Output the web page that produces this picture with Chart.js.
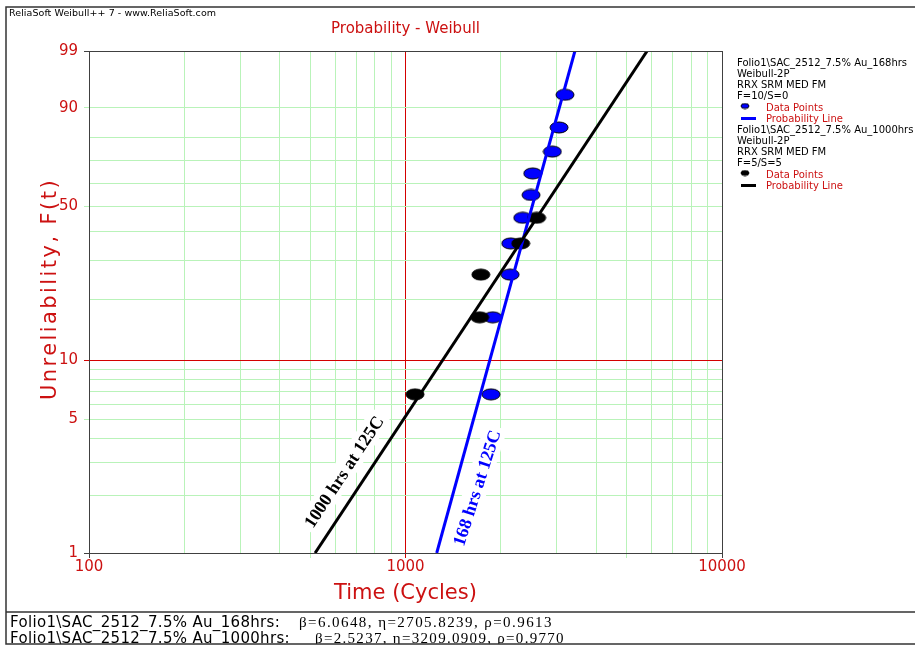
<!DOCTYPE html>
<html>
<head>
<meta charset="utf-8">
<title>Probability - Weibull</title>
<script src="https://cdn.jsdelivr.net/npm/chart.js@4.4.1/dist/chart.umd.min.js"></script>
<style>
  html, body { margin: 0; padding: 0; background: #fff; }
  #wrap { position: relative; width: 915px; height: 647px; }
</style>
</head>
<body>
<div id="wrap"><canvas id="weibullChart"></canvas></div>
<script>
// --- Values ---
// median ranks (%) of the failures, 10 units per test
const medianRanks = [6.73, 16.35, 25.96, 35.58, 45.19, 54.81, 64.42, 74.04, 83.65, 93.27];
const times168 = [1863, 1886, 2140, 2150, 2346, 2492, 2523, 2910, 3055, 3191];
const times1000 = [1072, 1715, 1730, 2312, 2597]; // 5 failed, 5 suspended

// fitted probability lines, [time, F%] at the plot edges
const line168 = [[1255, 1], [3430, 99]];
const line1000 = [[518, 1], [5800, 99]];

const xGrid = [100, 200, 300, 400, 500, 600, 700, 800, 900,
               1000, 2000, 3000, 4000, 5000, 6000, 7000, 8000, 9000, 10000];
const xLabels = [100, 1000, 10000];
const xTickMarks = [100, 500, 1000, 5000, 10000];
const yGrid = [1, 2, 3, 4, 5, 6, 7, 8, 9, 10, 20, 30, 40, 50, 60, 70, 80, 90, 99];
const yLabels = [1, 5, 10, 50, 90, 99];

const seriesNames = ['Folio1\\SAC_2512_7.5% Au_168hrs', 'Folio1\\SAC_2512_7.5% Au_1000hrs'];
const seriesCounts = ['F=10/S=0', 'F=5/S=5'];
const seriesParams = ['\u03b2=6.0648, \u03b7=2705.8239, \u03c1=0.9613',
                      '\u03b2=2.5237, \u03b7=3209.0909, \u03c1=0.9770'];

const RED = '#cc1111';
const GREEN = '#b9f3b9';
const GRID_RED = '#d40000';
const AXIS = '#404040';
const BLUE = '#0000ff';
const SANS = '"DejaVu Sans"';
const SERIF = '"Liberation Serif"';

// --- Weibull probability scale: y = ln(-ln(1 - F)) ---
const W = p => Math.log(-Math.log(1 - p / 100));

class WeibullScale extends Chart.LinearScale {
  static id = 'weibull';
  buildTicks() {
    return yGrid.map(v => ({ value: v }));
  }
  getPixelForValue(v) {
    const a = W(this.min), b = W(this.max);
    return this.getPixelForDecimal((W(v) - a) / (b - a));
  }
  getValueForPixel(px) {
    const a = W(this.min), b = W(this.max);
    const w = a + this.getDecimalForPixel(px) * (b - a);
    return 100 * (1 - Math.exp(-Math.exp(w)));
  }
}
Chart.register(WeibullScale);

// ellipse marker used for the data points
function ellipseMark(fill, rx, ry) {
  const c = document.createElement('canvas');
  c.width = rx * 2 + 2;
  c.height = ry * 2 + 2;
  const g = c.getContext('2d');
  g.beginPath();
  g.ellipse(rx + 1, ry + 1, rx, ry, 0, 0, Math.PI * 2);
  g.fillStyle = fill;
  g.fill();
  g.lineWidth = 1;
  g.strokeStyle = '#000';
  g.stroke();
  return c;
}

// draw text stretched/condensed to a given width with letter spacing
function spacedText(ctx, text, x, y, width) {
  ctx.letterSpacing = '0px';
  const w = ctx.measureText(text).width;
  const n = [...text].length;
  ctx.letterSpacing = ((width - w) / n).toFixed(2) + 'px';
  ctx.fillText(text, x, y);
  ctx.letterSpacing = '0px';
}

const notes = [
  { text: '1000 hrs at 125C', color: '#000', at: [639, 2.67], line: line1000, tilt: 0 },
  { text: '168 hrs at 125C', color: BLUE, at: [1682, 2.2], line: line168, tilt: 2.5 },
];

const decorations = {
  id: 'decorations',
  beforeDraw(chart) {
    const ctx = chart.ctx;
    ctx.save();
    ctx.fillStyle = '#fff';
    ctx.fillRect(0, 0, chart.width, chart.height);
    ctx.restore();
  },
  beforeDatasetsDraw(chart) {
    const { ctx, scales: { x, y } } = chart;
    notes.forEach(n => {
      const px = x.getPixelForValue(n.at[0]), py = y.getPixelForValue(n.at[1]);
      const ax = x.getPixelForValue(n.line[0][0]), ay = y.getPixelForValue(n.line[0][1]);
      const bx = x.getPixelForValue(n.line[1][0]), by = y.getPixelForValue(n.line[1][1]);
      const ang = Math.atan2(by - ay, bx - ax) + n.tilt * Math.PI / 180;
      ctx.save();
      ctx.translate(px, py);
      ctx.rotate(ang);
      ctx.font = 'bold 18px ' + SERIF;
      const w = ctx.measureText(n.text).width;
      ctx.fillStyle = '#fff';
      ctx.fillRect(-w / 2 - 4, -12, w + 8, 23);
      ctx.fillStyle = n.color;
      ctx.textAlign = 'center';
      ctx.textBaseline = 'middle';
      ctx.fillText(n.text, 0, 1);
      ctx.restore();
    });
  },
  afterDraw(chart) {
    const { ctx, chartArea: ca } = chart;
    ctx.save();

    // plot frame top/right
    ctx.strokeStyle = AXIS;
    ctx.lineWidth = 1;
    ctx.beginPath();
    ctx.moveTo(ca.left, ca.top + 0.5);
    ctx.lineTo(ca.right + 0.5, ca.top + 0.5);
    ctx.lineTo(ca.right + 0.5, ca.bottom);
    ctx.stroke();

    // header
    ctx.fillStyle = '#000';
    ctx.font = '9.5px ' + SANS;
    ctx.textAlign = 'left';
    ctx.textBaseline = 'middle';
    spacedText(ctx, 'ReliaSoft Weibull++ 7 - www.ReliaSoft.com', 9, 14, 207);

    // y axis title
    ctx.save();
    ctx.translate(56, 289);
    ctx.rotate(-Math.PI / 2);
    ctx.fillStyle = RED;
    ctx.font = '21px ' + SANS;
    ctx.textBaseline = 'alphabetic';
    spacedText(ctx, 'Unreliability, F(t)', -111, 0, 222);
    ctx.restore();

    // legend blocks
    const marks = [ellipseMark(BLUE, 4, 2.5), ellipseMark('#000', 4, 2.5)];
    const lineCols = [BLUE, '#000'];
    [63, 130].forEach((top, i) => {
      ctx.font = '10px ' + SANS;
      ctx.fillStyle = '#000';
      ctx.fillText(seriesNames[i], 737, top);
      ctx.fillText('Weibull-2P', 737, top + 11);
      ctx.fillText('RRX SRM MED FM', 737, top + 22);
      ctx.fillText(seriesCounts[i], 737, top + 33);
      ctx.drawImage(marks[i], 745 - marks[i].width / 2, top + 43 - marks[i].height / 2);
      ctx.strokeStyle = lineCols[i];
      ctx.lineWidth = 3;
      ctx.beginPath();
      ctx.moveTo(741, top + 55.5);
      ctx.lineTo(756, top + 55.5);
      ctx.stroke();
      ctx.fillStyle = RED;
      ctx.fillText('Data Points', 766, top + 45);
      ctx.fillText('Probability Line', 766, top + 56);
    });

    // parameter table at the bottom
    ctx.save();
    ctx.beginPath();
    ctx.rect(0, 0, chart.width, 644);
    ctx.clip();
    ctx.fillStyle = '#000';
    ctx.textBaseline = 'alphabetic';
    const nameW = [270, 280], valX = [299, 315], valW = [254, 250], base = [627, 643];
    seriesNames.forEach((name, i) => {
      ctx.font = '15px ' + SANS;
      spacedText(ctx, name + ':', 10, base[i], nameW[i]);
      ctx.font = '15px ' + SERIF;
      spacedText(ctx, seriesParams[i], valX[i], base[i], valW[i]);
    });
    ctx.restore();

    // outer frame
    ctx.strokeStyle = '#333';
    ctx.lineWidth = 1.5;
    ctx.beginPath();
    ctx.moveTo(915, 7);
    ctx.lineTo(6, 7);
    ctx.lineTo(6, 644);
    ctx.lineTo(915, 644);
    ctx.moveTo(6, 612);
    ctx.lineTo(915, 612);
    ctx.stroke();

    ctx.restore();
  }
};

const pts = (times, ranks) => times.map((t, i) => ({ x: t, y: ranks[i] }));
const seg = l => l.map(p => ({ x: p[0], y: p[1] }));

const xGridColor = v => v === 1000 ? GRID_RED : (v === 100 || v === 10000 ? AXIS : GREEN);
const yGridColor = v => v === 10 ? GRID_RED : (v === 1 || v === 99 ? AXIS : GREEN);

new Chart(document.getElementById('weibullChart'), {
  type: 'scatter',
  data: {
    datasets: [
      { label: '1000hrs line', data: seg(line1000), showLine: true, borderColor: '#000',
        borderWidth: 3, pointRadius: 0, order: 0 },
      { label: '168hrs line', data: seg(line168), showLine: true, borderColor: BLUE,
        borderWidth: 3, pointRadius: 0, order: 1 },
      { label: '1000hrs points', data: pts(times1000, medianRanks),
        pointStyle: ellipseMark('#000', 9, 5.5), order: 2 },
      { label: '168hrs points', data: pts(times168, medianRanks),
        pointStyle: ellipseMark(BLUE, 9, 5.5), order: 3 },
    ]
  },
  options: {
    responsive: true,
    maintainAspectRatio: false,
    animation: false,
    layout: { padding: { left: 0, top: 0, right: 193, bottom: 0 } },
    plugins: {
      legend: { display: false },
      tooltip: { enabled: false },
      title: {
        display: true,
        text: 'Probability - Weibull',
        color: RED,
        fullSize: false,
        font: { family: 'DejaVu Sans', size: 15, weight: 'normal' },
        padding: { top: 20, bottom: 13 }
      }
    },
    scales: {
      x: {
        type: 'logarithmic',
        min: 100,
        max: 10000,
        afterBuildTicks: s => { s.ticks = xGrid.map(v => ({ value: v })); },
        afterFit: s => { s.height = 94; },
        ticks: {
          autoSkip: false,
          maxRotation: 0,
          padding: 0,
          color: RED,
          font: { family: 'DejaVu Sans', size: 15 },
          callback: v => xLabels.includes(v) ? String(v) : ''
        },
        grid: {
          color: c => xGridColor(c.tick.value),
          tickColor: c => xTickMarks.includes(c.tick.value) ? xGridColor(c.tick.value) : 'rgba(0,0,0,0)',
          tickLength: 5
        },
        border: { color: AXIS },
        title: {
          display: true,
          text: 'Time (Cycles)',
          color: RED,
          font: { family: 'DejaVu Sans', size: 21 },
          padding: { top: 0, bottom: 41 }
        }
      },
      y: {
        type: 'weibull',
        min: 1,
        max: 99,
        afterFit: s => { s.width = 89; },
        ticks: {
          autoSkip: false,
          padding: 6,
          color: RED,
          font: { family: 'DejaVu Sans', size: 15 },
          callback: v => yLabels.includes(v) ? String(v) : ''
        },
        grid: {
          color: c => yGridColor(c.tick.value),
          tickColor: c => yLabels.includes(c.tick.value) ? yGridColor(c.tick.value) : 'rgba(0,0,0,0)',
          tickLength: 5
        },
        border: { color: AXIS }
      }
    }
  },
  plugins: [decorations]
});
</script>
</body>
</html>
